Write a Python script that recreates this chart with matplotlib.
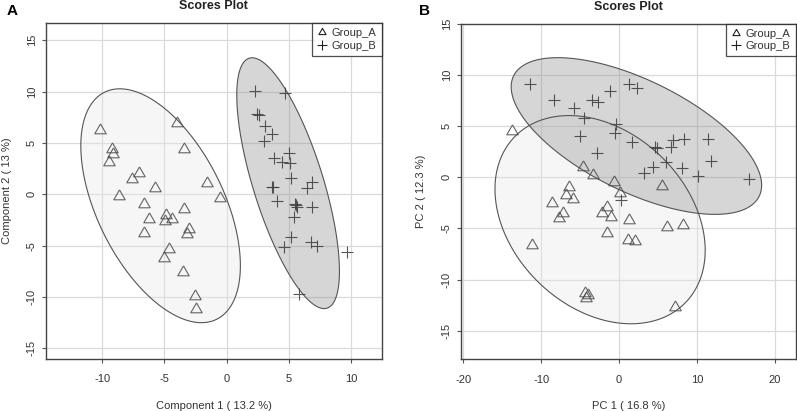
import numpy as np
import matplotlib
matplotlib.use("Agg")
import matplotlib.pyplot as plt
from matplotlib.patches import Polygon
from matplotlib.lines import Line2D

plt.rcParams['font.family'] = ['Liberation Sans', 'DejaVu Sans']
plt.rcParams['axes.unicode_minus'] = False

# ---------------- Data ----------------
# Panel A (PLS-DA style scores)
a_grpA_x = [-10.16, -9.22, -9.14, -9.47, -7.01, -7.57, -8.64, -5.72, -6.66, -6.23, -6.63,
            -4.87, -4.97, -4.39, -4.01, -3.40, -1.58, -0.53, -3.45, -2.99, -3.18, -4.65,
            -5.05, -3.48, -2.51, -2.46]
a_grpA_y = [6.27, 4.42, 3.90, 3.18, 2.11, 1.53, -0.16, 0.58, -0.94, -2.40, -3.73,
            -2.01, -2.60, -2.40, 6.98, 4.42, 1.07, -0.36, -1.40, -3.41, -3.90, -5.36,
            -6.20, -7.53, -9.90, -11.17]
a_grpB_x = [2.27, 4.68, 2.40, 2.56, 3.07, 3.66, 2.97, 3.77, 5.03, 4.41, 5.08, 5.13,
            3.64, 3.74, 6.84, 6.47, 4.04, 5.56, 5.61, 5.50, 6.87, 5.40, 5.16, 4.57,
            6.76, 7.22, 9.63, 5.78]
a_grpB_y = [10.10, 9.84, 7.82, 7.72, 6.66, 5.84, 5.23, 3.57, 4.06, 3.12, 3.02, 1.56,
            0.75, 0.69, 1.17, 0.58, -0.62, -1.04, -1.20, -0.98, -1.20, -2.18, -4.19,
            -5.10, -4.61, -5.03, -5.58, -9.74]

# Panel B (PCA scores)
b_grpA_x = [-13.79, -4.67, -3.38, -0.69, 5.52, 0.17, -6.38, -6.81, -5.87, -8.57, -7.24,
            -7.67, -1.58, -2.14, -1.07, 1.33, 6.12, 8.27, -1.50, 1.20, 2.06, -11.18,
            -4.33, -4.03, -4.24, 7.24]
b_grpA_y = [4.53, 1.04, 0.23, -0.42, -0.85, -1.57, -0.91, -1.73, -2.15, -2.54, -3.52,
            -4.01, -2.87, -3.52, -3.85, -4.17, -4.89, -4.70, -5.48, -6.13, -6.20, -6.62,
            -11.35, -11.51, -11.77, -12.72]
b_grpB_x = [-11.39, -8.39, -5.82, -4.45, -3.47, -2.70, -1.20, 1.28, 2.36, -0.34, -0.56,
            -4.97, -2.83, 1.67, 4.58, 4.88, 6.64, 6.98, 8.39, 11.39, 11.78, 6.00, 4.41,
            3.25, 8.05, 10.11, 16.70, 0.21]
b_grpB_y = [9.10, 7.56, 6.81, 5.84, 7.56, 7.40, 8.48, 9.10, 8.71, 5.22, 4.30, 4.04,
            2.35, 3.49, 3.00, 2.90, 3.00, 3.65, 3.72, 3.72, 1.63, 1.53, 1.04, 0.39,
            0.88, 0.16, -0.20, -2.22]

group_labels = ["Group_A", "Group_B"]
panel_titles = ["Scores Plot", "Scores Plot"]
panel_letters = ["A", "B"]
xlabels = ["Component 1 ( 13.2 %)", "PC 1 ( 16.8 %)"]
ylabels = ["Component 2 ( 13 %)", "PC 2 ( 12.3 %)"]
xticks_a = [-10, -5, 0, 5, 10]
yticks_a = [-15, -10, -5, 0, 5, 10, 15]
xticks_b = [-20, -10, 0, 10, 20]
yticks_b = [-15, -10, -5, 0, 5, 10, 15]

# R-style open triangle (pch = 2), centred on its centroid
TRI = [(0, 1.0), (0.866, -0.5), (-0.866, -0.5), (0, 1.0)]


def conf_ellipse(x, y, level=0.95, n=200):
    x = np.asarray(x); y = np.asarray(y)
    cov = np.cov(x, y)
    vals, vecs = np.linalg.eigh(cov)
    t = np.sqrt(-2.0 * np.log(1.0 - level))
    th = np.linspace(0, 2 * np.pi, n)
    circ = np.vstack([np.cos(th), np.sin(th)])
    pts = vecs @ (np.sqrt(vals)[:, None] * circ) * t
    return np.column_stack([pts[0] + x.mean(), pts[1] + y.mean()])


fig = plt.figure(figsize=(7.97, 4.11), dpi=100)
axA = fig.add_axes([46 / 797, 1 - 359 / 411, (381.7 - 46) / 797, (359 - 23.3) / 411])
axB = fig.add_axes([460.7 / 797, 1 - 359.3 / 411, (795.7 - 460.7) / 797, (359.3 - 24) / 411])

panels = [
    (axA, a_grpA_x, a_grpA_y, a_grpB_x, a_grpB_y, xticks_a, yticks_a, (-14.5, 12.43), (-16.04, 16.65)),
    (axB, b_grpA_x, b_grpA_y, b_grpB_x, b_grpB_y, xticks_b, yticks_b, (-20.34, 22.7), (-17.8, 15.0)),
]

tri_col = '#4a4a4a'
plus_col = '#3a3a3a'
FS = 8
for i, (ax, ax_x, ax_y, bx, by, xt, yt, xl, yl) in enumerate(panels):
    ax.set_xlim(*xl)
    ax.set_ylim(*yl)
    ax.set_xticks(xt)
    ax.set_yticks(yt)
    ax.grid(True, color='#dadada', lw=0.9, zorder=0)
    ax.set_axisbelow(True)
    # 95% confidence ellipses computed from the scores
    eA = conf_ellipse(ax_x, ax_y)
    eB = conf_ellipse(bx, by)
    ax.add_patch(Polygon(eA, closed=True, facecolor='#e6e6e6', alpha=0.35,
                         edgecolor='none', zorder=1))
    ax.add_patch(Polygon(eA, closed=True, facecolor='none', edgecolor='#555555',
                         lw=0.8, zorder=3))
    ax.add_patch(Polygon(eB, closed=True, facecolor='#8c8c8c', alpha=0.35,
                         edgecolor='none', zorder=2))
    ax.add_patch(Polygon(eB, closed=True, facecolor='none', edgecolor='#555555',
                         lw=0.8, zorder=3))
    ax.plot(ax_x, ax_y, ls='none', marker=TRI, ms=9.5, mfc='none', mec=tri_col,
            mew=0.8, alpha=0.85, zorder=4)
    ax.plot(bx, by, ls='none', marker='+', ms=9, mec=plus_col, mew=0.8,
            alpha=0.85, zorder=4)
    for s in ax.spines.values():
        s.set_color('#444444')
        s.set_linewidth(1.0)
    ax.tick_params(axis='both', length=3, width=0.8, color='#555555',
                   labelsize=FS, labelcolor='#333333')
    ax.tick_params(axis='x', pad=8)
    ax.tick_params(axis='y', pad=3.5)
    for lab in ax.get_yticklabels():
        lab.set_rotation(90)
        lab.set_va('center')
    ax.set_xlabel(xlabels[i], fontsize=FS, color='#333333', labelpad=12)
    ax.set_ylabel(ylabels[i], fontsize=FS, color='#333333', labelpad=11)
    ax.set_title(panel_titles[i], fontsize=9, fontweight='bold', pad=10, color='#222222')
    handles = [Line2D([], [], ls='none', marker=TRI, ms=6, mfc='none', mec='#222222', mew=0.8),
               Line2D([], [], ls='none', marker='+', ms=7, mec='#222222', mew=0.8)]
    leg = ax.legend(handles, group_labels, loc='upper right', bbox_to_anchor=(1.0, 1.0),
                    fontsize=FS, frameon=True, fancybox=False, borderaxespad=0,
                    handlelength=0.9, handletextpad=0.45, borderpad=0.45,
                    labelspacing=0.2, edgecolor='#222222')
    leg.get_frame().set_linewidth(0.9)
    for t in leg.get_texts():
        t.set_color('#333333')

fig.text(7 / 797, 1 - 11 / 411, panel_letters[0], fontsize=11, fontweight='bold', va='center', ha='left')
fig.text(419 / 797, 1 - 11 / 411, panel_letters[1], fontsize=11, fontweight='bold', va='center', ha='left')

fig.savefig('out.png', dpi=100)
